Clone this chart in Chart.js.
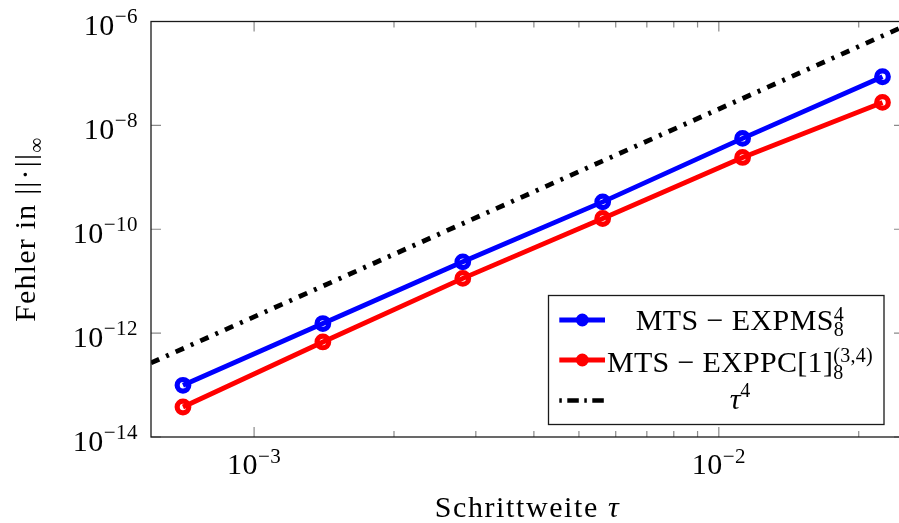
<!DOCTYPE html>
<html>
<head>
<meta charset="utf-8">
<script src="https://cdn.jsdelivr.net/npm/chart.js@4"></script>
<style>
  html, body { margin: 0; padding: 0; background: #fff; overflow: hidden; }
  canvas { display: block; }
</style>
</head>
<body>
<canvas id="c" width="915" height="523"></canvas>
<script>
// ---- data ----
const tau = [7.03e-4, 1.406e-3, 2.8125e-3, 5.625e-3, 1.125e-2, 2.25e-2];
const errExpms = [9.9e-14, 1.53e-12, 2.36e-11, 3.37e-10, 5.61e-9, 8.63e-8];
const errExppc = [3.78e-14, 6.76e-13, 1.13e-11, 1.61e-10, 2.41e-9, 2.77e-8];
const refTau = [6.0e-4, 2.503e-2];
const refVal = [2.67e-13, 8.09e-7];

const xRange = [6.0e-4, 2.503e-2];
const yRange = [1e-14, 1e-6];
const xMajorTicks = [1e-3, 1e-2];
const xMajorExp = ['\u22123', '\u22122'];
const xMinorTicks = [2e-3, 3e-3, 4e-3, 5e-3, 6e-3, 7e-3, 8e-3, 9e-3, 2e-2];
const yMajorTicks = [1e-6, 1e-8, 1e-10, 1e-12, 1e-14];
const yMajorExp = ['\u22126', '\u22128', '\u221210', '\u221212', '\u221214'];

const seriesNames = ['MTS \u2212 EXPMS', 'MTS \u2212 EXPPC[1]', '\u03c4'];
const xTitle = 'Schrittweite ';
const yTitle = 'Fehler in ';

const FONT = '30px "Liberation Serif"';
const FONT_I = 'italic 30px "Liberation Serif"';
const SFONT = '21px "Liberation Serif"';
const SSFONT = '20px "Liberation Serif"';

function pts(xs, ys) { return xs.map((x, i) => ({ x: x, y: ys[i] })); }

function drawRich(ctx, items, x, y, align, spacing) {
  ctx.letterSpacing = (spacing || 0) + 'px';
  const widths = items.map(it => {
    const list = it.stack || [it];
    return Math.max(...list.map(s => { ctx.font = s.font; return ctx.measureText(s.t).width; })) + (it.gap || 0);
  });
  const total = widths.reduce((a, b) => a + b, 0);
  let cx = align === 'center' ? x - total / 2 : (align === 'right' ? x - total : x);
  ctx.textAlign = 'left';
  ctx.textBaseline = 'alphabetic';
  items.forEach((it, i) => {
    const list = it.stack || [it];
    list.forEach(s => { ctx.font = s.font; ctx.fillText(s.t, cx, y + (s.dy || 0)); });
    cx += widths[i];
  });
  ctx.letterSpacing = '0px';
}

const axisPlugin = {
  id: 'pgfAxis',
  beforeDatasetsDraw(chart) {
    const ctx = chart.ctx, a = chart.chartArea;
    const xs = chart.scales.x, ys = chart.scales.y;
    ctx.save();
    ctx.strokeStyle = '#8a8a8a';
    ctx.lineWidth = 1.2;
    ctx.beginPath();
    xMajorTicks.forEach(v => {
      const px = xs.getPixelForValue(v);
      ctx.moveTo(px, a.bottom); ctx.lineTo(px, a.bottom - 10);
      ctx.moveTo(px, a.top); ctx.lineTo(px, a.top + 10);
    });
    xMinorTicks.forEach(v => {
      const px = xs.getPixelForValue(v);
      ctx.moveTo(px, a.bottom); ctx.lineTo(px, a.bottom - 6);
      ctx.moveTo(px, a.top); ctx.lineTo(px, a.top + 6);
    });
    yMajorTicks.forEach(v => {
      const py = ys.getPixelForValue(v);
      ctx.moveTo(a.left, py); ctx.lineTo(a.left + 10, py);
      ctx.moveTo(a.right, py); ctx.lineTo(a.right - 10, py);
    });
    ctx.stroke();
    ctx.restore();
  },
  afterDatasetsDraw(chart) {
    const ctx = chart.ctx, a = chart.chartArea;
    const xs = chart.scales.x, ys = chart.scales.y;
    ctx.save();
    // frame
    ctx.strokeStyle = '#1a1a1a';
    ctx.lineWidth = 1.3;
    ctx.strokeRect(a.left, a.top, a.right - a.left, a.bottom - a.top);
    ctx.fillStyle = '#000';
    // x tick labels
    xMajorTicks.forEach((v, i) => {
      const px = xs.getPixelForValue(v);
      drawRich(ctx, [{ t: '10', font: FONT }, { t: xMajorExp[i], font: SFONT, dy: -11 }], px, a.bottom + 37, 'center', 0.5);
    });
    // y tick labels
    yMajorTicks.forEach((v, i) => {
      const py = ys.getPixelForValue(v);
      drawRich(ctx, [{ t: '10', font: FONT }, { t: yMajorExp[i], font: SFONT, dy: -12 }], a.left - 13, py + 13.5, 'right', 0.5);
    });
    // x title
    drawRich(ctx, [{ t: xTitle, font: FONT }, { t: '\u03c4', font: FONT_I }], (a.left + a.right) / 2, 516.5, 'center', 1.6);
    // y title
    ctx.save();
    ctx.translate(35, (a.top + a.bottom) / 2);
    ctx.rotate(-Math.PI / 2);
    drawRich(ctx, [
      { t: yTitle, font: FONT },
      { t: '||', font: FONT, gap: 1 },
      { t: '\u00b7', font: FONT, gap: 1 },
      { t: '||', font: FONT },
      { t: '\u221e', font: SFONT, dy: 8 }
    ], 0, 0, 'center', 1.2);
    ctx.restore();

    // legend
    const L = { x: 548.5, y: 295.5, w: 335.5, h: 129 };
    ctx.fillStyle = '#fff';
    ctx.fillRect(L.x, L.y, L.w, L.h);
    ctx.strokeStyle = '#1a1a1a';
    ctx.lineWidth = 1.3;
    ctx.strokeRect(L.x, L.y, L.w, L.h);
    const rowsY = [320, 360, 400.5];
    const baseY = [330, 371.5, 408.5];
    const colors = ['#0000ff', '#ff0000'];
    for (let r = 0; r < 2; r++) {
      ctx.strokeStyle = colors[r];
      ctx.lineWidth = 5;
      ctx.setLineDash([]);
      ctx.beginPath();
      ctx.moveTo(559.3, rowsY[r]); ctx.lineTo(605, rowsY[r]);
      ctx.stroke();
      ctx.lineWidth = 4.5;
      ctx.beginPath();
      ctx.arc(582.3, rowsY[r], 4.2, 0, Math.PI * 2);
      ctx.stroke();
    }
    ctx.strokeStyle = '#000';
    ctx.lineWidth = 4.5;
    ctx.setLineDash([2.5, 5.5, 11.5, 5.5]);
    ctx.beginPath();
    ctx.moveTo(559.3, rowsY[2]); ctx.lineTo(605, rowsY[2]);
    ctx.stroke();
    ctx.setLineDash([]);
    ctx.fillStyle = '#000';
    drawRich(ctx, [{ t: seriesNames[0], font: FONT }, { stack: [{ t: '8', font: SSFONT, dy: 5.5 }, { t: '4', font: SSFONT, dy: -9 }] }], 740, baseY[0], 'center', 0.4);
    drawRich(ctx, [{ t: seriesNames[1], font: FONT }, { stack: [{ t: '8', font: SSFONT, dy: 7 }, { t: '(3,4)', font: SSFONT, dy: -10 }] }], 740, baseY[1], 'center', 0.3);
    drawRich(ctx, [{ t: seriesNames[2], font: FONT_I }, { t: '4', font: SSFONT, dy: -12 }], 740, baseY[2], 'center');
    ctx.restore();
  }
};

new Chart(document.getElementById('c'), {
  type: 'line',
  data: {
    datasets: [
      {
        label: seriesNames[0],
        data: pts(tau, errExpms),
        borderColor: '#0000ff',
        borderWidth: 4.8,
        pointRadius: 5.8,
        pointBorderWidth: 5.2,
        pointBorderColor: '#0000ff',
        pointBackgroundColor: 'rgba(0,0,0,0)',
        fill: false,
        tension: 0,
        order: 3
      },
      {
        label: seriesNames[1],
        data: pts(tau, errExppc),
        borderColor: '#ff0000',
        borderWidth: 4.8,
        pointRadius: 5.8,
        pointBorderWidth: 5.2,
        pointBorderColor: '#ff0000',
        pointBackgroundColor: 'rgba(0,0,0,0)',
        fill: false,
        tension: 0,
        order: 2
      },
      {
        label: seriesNames[2],
        data: pts(refTau, refVal),
        borderColor: '#000',
        borderWidth: 4.8,
        borderDash: [9, 7.5, 3, 7.5],
        pointRadius: 0,
        fill: false,
        tension: 0,
        order: 1
      }
    ]
  },
  options: {
    responsive: false,
    devicePixelRatio: 1,
    animation: false,
    layout: { padding: { left: 151, top: 21.5, right: 8, bottom: 86 } },
    scales: {
      x: { type: 'logarithmic', min: xRange[0], max: xRange[1], display: false },
      y: { type: 'logarithmic', min: yRange[0], max: yRange[1], display: false }
    },
    plugins: { legend: { display: false }, tooltip: { enabled: false } }
  },
  plugins: [axisPlugin]
});
</script>
</body>
</html>
